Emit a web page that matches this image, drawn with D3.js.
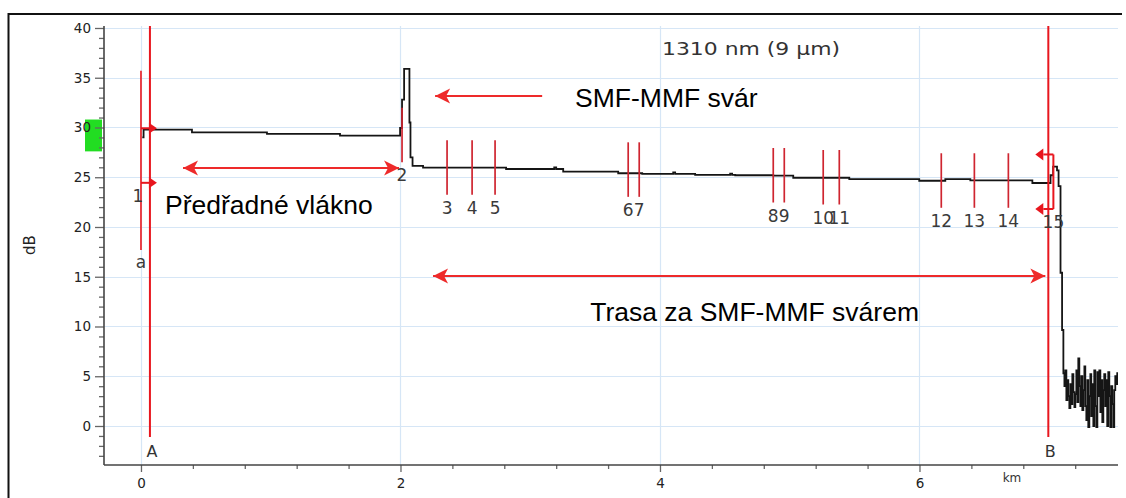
<!DOCTYPE html>
<html><head><meta charset="utf-8">
<script src="https://cdn.jsdelivr.net/npm/d3@7"></script>
<style>body{margin:0;background:#fff}svg{display:block}</style>
</head><body>
<svg id="c" width="1126" height="498"></svg>
<script>
// ---- data ----
const traceKm = [0.010,0.020,0.393,0.971,1.534,1.997,2.012,2.028,2.069,2.077,2.093,2.174,2.814,3.185,3.200,3.254,3.678,3.863,4.102,4.117,4.271,4.541,4.556,4.580,4.873,5.027,5.459,5.998,6.199,6.392,6.870,7.010,7.030,7.060,7.072,7.087,7.099,7.109,
 7.117,7.124,7.132,7.140,7.147,7.155,7.163,7.171,7.178,7.186,7.194,7.201,7.209,7.217,7.224,7.232,7.240,7.247,7.255,7.263,7.271,7.278,7.286,7.294,7.301,7.309,7.317,7.324,7.332,7.340,7.347,7.355,7.363,7.371,7.378,7.386,7.394,7.401,7.409,7.417,7.424,7.432,7.440,7.447,7.455,7.463,7.471,7.478,7.486,7.494,7.501,7.509,7.517,7.524];
const traceDb = [29.0,29.78,29.5,29.35,29.18,29.95,32.8,35.9,30.5,27.0,26.15,25.96,25.83,25.98,25.83,25.56,25.4,25.33,25.48,25.33,25.23,25.36,25.23,25.2,25.16,24.95,24.82,24.65,24.82,24.69,24.42,25.2,26.06,25.7,24.1,15.4,9.65,5.3,
 4.0,5.6,2.6,4.6,3.0,1.8,4.2,2.2,5.2,3.4,1.9,3.2,5.6,2.4,6.8,4.0,2.0,5.0,1.6,3.6,6.0,2.0,0.6,4.6,-0.1,3.0,5.2,1.0,4.2,0.0,5.6,2.0,-0.1,5.4,3.0,5.6,1.4,4.6,0.4,3.6,5.2,2.0,4.6,0.0,5.4,3.0,-0.1,4.0,2.2,-0.1,3.6,5.0,4.2,5.4];

const yMajorTicks = [0,5,10,15,20,25,30,35,40];
const yMinorTicks = [-3,-2,-1,1,2,3,4,6,7,8,9,11,12,13,14,16,17,18,19,21,22,23,24,26,27,28,29,31,32,33,34,36,37,38,39];
const xMajorTicks = [0,2,4,6];
const xMinorTicks = [0.4,0.8,1.2,1.6,2.4,2.8,3.2,3.6,4.4,4.8,5.2,5.6,6.4,6.8,7.2];

const eventLabels = ["1","2","3","4","5","6","7","8","9","10","11","12","13","14","15"];
const eventKm = [0,2.012,2.359,2.552,2.729,3.755,3.840,4.873,4.958,5.258,5.382,6.168,6.423,6.685,7.032];
const eventDb = [27.18,29.25,25.97,25.97,25.97,25.77,25.77,25.2,25.2,25.0,25.0,24.67,24.67,24.67,24.55];

const cursorLabels = ["A","B"];
const cursorKm = [0.069,6.993];
const subCursorLabel = "a";
const subCursorKm = 0;
const subCursorDb = [35.7,17.7];
const greenBandDb = [27.6,30.8];

const annoTexts = ["SMF-MMF svár","Předřadné vlákno","Trasa za SMF-MMF svárem"];
const annoTextKm = [3.346,0.185,3.462];
const annoTextDb = [32.06,21.3,10.55];
const arrowFromKm = [3.092,0.324,2.251];
const arrowToKm = [2.267,1.989,6.970];
const arrowDb = [33.17,25.93,15.08];
const arrowBoth = [false,true,true];

const titleText = "1310 nm (9 µm)";
const yTitle = "dB";
const xUnit = "km";

// ---- layout ----
const svg = d3.select("#c");
const x = d3.scaleLinear().domain([-0.285,7.53]).range([104,1118]);
const y = d3.scaleLinear().domain([-3.92,40.2]).range([465,26]);

const defs = svg.append("defs");
defs.append("marker").attr("id","ah").attr("viewBox","-16 -8 17 16")
  .attr("refX",0).attr("refY",0).attr("markerWidth",17).attr("markerHeight",16)
  .attr("markerUnits","userSpaceOnUse").attr("orient","auto-start-reverse")
  .append("path").attr("d","M0,0 L-15,-7.5 L-11,0 L-15,7.5 Z").attr("fill","#ee2a2a");
defs.append("clipPath").attr("id","clip").append("rect")
  .attr("x",104).attr("y",20).attr("width",1014).attr("height",445);

// frame
svg.append("path").attr("d","M8.5,498 L8.5,14 L1122,14").attr("fill","none")
  .attr("stroke","#111").attr("stroke-width",2);

// grid
svg.append("g").selectAll("line").data(yMajorTicks).join("line")
  .attr("x1",104).attr("x2",1118).attr("y1",d=>Math.round(y(d))+0.5).attr("y2",d=>Math.round(y(d))+0.5)
  .attr("stroke","#d6e6f6").attr("stroke-width",1.2);
svg.append("g").selectAll("line").data(xMajorTicks).join("line")
  .attr("y1",26).attr("y2",465).attr("x1",d=>Math.round(x(d))+0.5).attr("x2",d=>Math.round(x(d))+0.5)
  .attr("stroke","#d6e6f6").attr("stroke-width",1.2);

// green band
svg.append("rect").attr("x",85).attr("width",17)
  .attr("y",y(greenBandDb[1])).attr("height",y(greenBandDb[0])-y(greenBandDb[1]))
  .attr("fill","#22dd22");

// axes
const tickFont = "DejaVu Sans, Verdana, sans-serif";
const gy = svg.append("g").attr("transform","translate(104,0)");
gy.call(d3.axisLeft(y).tickValues(yMajorTicks).tickSize(9).tickPadding(4).tickFormat(d3.format("d")));
gy.append("g").call(d3.axisLeft(y).tickValues(yMinorTicks).tickSize(5).tickFormat(""));
gy.selectAll(".domain").remove();
gy.append("line").attr("x1",0).attr("x2",0).attr("y1",26).attr("y2",465).attr("stroke","#444").attr("stroke-width",1.6);
gy.selectAll(".tick line").attr("stroke","#666").attr("stroke-width",1.3);
gy.selectAll("text").attr("font-family",tickFont).attr("font-size",13.5).attr("fill","#222");

const gx = svg.append("g").attr("transform","translate(0,465)");
gx.call(d3.axisBottom(x).tickValues(xMajorTicks).tickSize(7).tickPadding(6).tickFormat(d3.format("d")));
gx.append("g").call(d3.axisBottom(x).tickValues(xMinorTicks).tickSize(4).tickFormat(""));
gx.selectAll(".domain").remove();
gx.append("line").attr("x1",104).attr("x2",1118).attr("y1",0).attr("y2",0).attr("stroke","#444").attr("stroke-width",1.6);
gx.selectAll(".tick line").attr("stroke","#666").attr("stroke-width",1.3);
gx.selectAll("text").attr("font-family",tickFont).attr("font-size",13.5).attr("fill","#222");

svg.append("text").attr("x",1012).attr("y",482).attr("text-anchor","middle")
  .attr("font-family",tickFont).attr("font-size",12).attr("fill","#333").text(xUnit);
svg.append("text").attr("transform","translate(35,245) rotate(-90)").attr("text-anchor","middle")
  .attr("font-family",tickFont).attr("font-size",15).attr("fill","#222").text(yTitle);

svg.append("text").attr("x",662).attr("y",55).attr("font-family",tickFont).attr("font-size",17)
  .attr("textLength",178).attr("lengthAdjust","spacingAndGlyphs").attr("fill","#333").text(titleText);

// trace
svg.append("path").datum(traceKm.map((k,i)=>[k,traceDb[i]]))
  .attr("clip-path","url(#clip)")
  .attr("d",d3.line().x(d=>x(d[0])).y(d=>y(d[1])).curve(d3.curveStepAfter))
  .attr("fill","none").attr("stroke","#151515").attr("stroke-width",1.8);

// cursors A, B
const red = "#e8161e";
cursorKm.forEach((k,i)=>{
  svg.append("line").attr("x1",x(k)).attr("x2",x(k)).attr("y1",26).attr("y2",y(-1.1))
    .attr("stroke",red).attr("stroke-width",2);
  svg.append("text").attr("x",x(k)+2).attr("y",y(-3.1)).attr("text-anchor","middle")
    .attr("font-family",tickFont).attr("font-size",16).attr("fill","#333").text(cursorLabels[i]);
});
// sub cursor a
svg.append("line").attr("x1",x(subCursorKm)).attr("x2",x(subCursorKm))
  .attr("y1",y(subCursorDb[0])).attr("y2",y(subCursorDb[1])).attr("stroke",red).attr("stroke-width",1.6);
svg.append("text").attr("x",x(subCursorKm)).attr("y",y(subCursorDb[1])+18).attr("text-anchor","middle")
  .attr("font-family",tickFont).attr("font-size",17).attr("fill","#3a3a3a").text(subCursorLabel);

// events
const half = 2.74;
eventKm.forEach((k,i)=>{
  const xe = x(k), y1 = y(eventDb[i]+half), y2 = y(eventDb[i]-half);
  const last = i===eventKm.length-1, first = i===0;
  if(!first){
    svg.append("line").attr("x1",xe).attr("x2",xe).attr("y1",y1).attr("y2",y2)
      .attr("stroke",last?red:"#cf2530").attr("stroke-width",last?2:1.7);
  }
  svg.append("text").attr("x",first?xe-3:xe).attr("y",y2+19).attr("text-anchor","middle")
    .attr("font-family",tickFont).attr("font-size",17).attr("fill","#3a3a3a").text(eventLabels[i]);
  if(first){
    const xa = x(cursorKm[0]);
    [y1,y2].forEach(yy=>{
      svg.append("line").attr("x1",xe).attr("x2",xa).attr("y1",yy).attr("y2",yy).attr("stroke",red).attr("stroke-width",2);
      svg.append("path").attr("d",`M${xa-1},${yy-5.5} L${xa+7},${yy} L${xa-1},${yy+5.5} Z`).attr("fill",red);
    });
  }
  if(last){
    const xb = x(cursorKm[1]);
    [y1,y2].forEach(yy=>{
      svg.append("line").attr("x1",xe).attr("x2",xb-5).attr("y1",yy).attr("y2",yy).attr("stroke",red).attr("stroke-width",2);
      svg.append("path").attr("d",`M${xb-5},${yy-6} L${xb-13},${yy} L${xb-5},${yy+6} Z`).attr("fill",red);
    });
  }
});

// annotations
arrowDb.forEach((d,i)=>{
  svg.append("line").attr("x1",x(arrowFromKm[i])).attr("x2",x(arrowToKm[i]))
    .attr("y1",y(d)).attr("y2",y(d)).attr("stroke","#ee2a2a").attr("stroke-width",2)
    .attr("marker-end","url(#ah)").attr("marker-start",arrowBoth[i]?"url(#ah)":null);
});
annoTexts.forEach((t,i)=>{
  svg.append("text").attr("x",x(annoTextKm[i])).attr("y",y(annoTextDb[i]))
    .attr("font-family","Liberation Sans, Arial, sans-serif").attr("font-size",26.5)
    .attr("fill","#000").text(t);
});
</script>
</body></html>
